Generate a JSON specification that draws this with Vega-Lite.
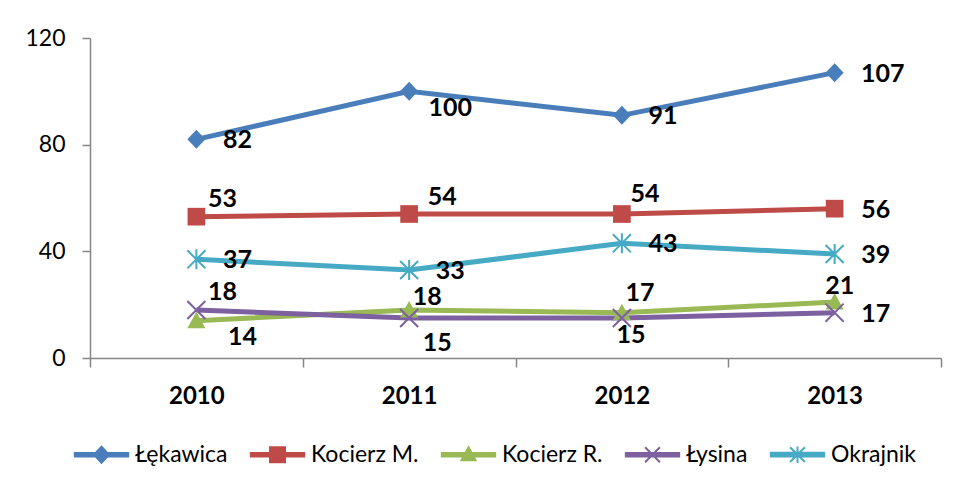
{
  "$schema": "https://vega.github.io/schema/vega-lite/v6.json",
  "width": 851,
  "height": 320,
  "autosize": {"type": "none"},
  "padding": {"left": 90, "top": 38, "right": 17, "bottom": 131},
  "background": "white",
  "config": {"view": {"stroke": null}, "font": "Lato"},
  "data": {
    "values": [
      {"series": "Łękawica", "year": "2010", "value": 82},
      {"series": "Łękawica", "year": "2011", "value": 100},
      {"series": "Łękawica", "year": "2012", "value": 91},
      {"series": "Łękawica", "year": "2013", "value": 107},
      {"series": "Kocierz M.", "year": "2010", "value": 53},
      {"series": "Kocierz M.", "year": "2011", "value": 54},
      {"series": "Kocierz M.", "year": "2012", "value": 54},
      {"series": "Kocierz M.", "year": "2013", "value": 56},
      {"series": "Kocierz R.", "year": "2010", "value": 14},
      {"series": "Kocierz R.", "year": "2011", "value": 18},
      {"series": "Kocierz R.", "year": "2012", "value": 17},
      {"series": "Kocierz R.", "year": "2013", "value": 21},
      {"series": "Łysina", "year": "2010", "value": 18},
      {"series": "Łysina", "year": "2011", "value": 15},
      {"series": "Łysina", "year": "2012", "value": 15},
      {"series": "Łysina", "year": "2013", "value": 17},
      {"series": "Okrajnik", "year": "2010", "value": 37},
      {"series": "Okrajnik", "year": "2011", "value": 33},
      {"series": "Okrajnik", "year": "2012", "value": 43},
      {"series": "Okrajnik", "year": "2013", "value": 39}
    ]
  },
  "encoding": {
    "x": {
      "field": "year", "type": "nominal",
      "scale": {"type": "band", "paddingInner": 0, "paddingOuter": 0},
      "axis": {
        "title": null, "labelAngle": 0, "tickBand": "extent", "grid": false,
        "domainColor": "#868686", "domainWidth": 1.5, "tickColor": "#868686", "tickWidth": 1.5, "tickSize": 9,
        "labelFont": "Lato", "labelFontSize": 24, "labelFontWeight": "bold", "labelColor": "black",
        "labelBaseline": "middle", "labelPadding": 29
      }
    },
    "y": {
      "field": "value", "type": "quantitative",
      "scale": {"domain": [0, 120]},
      "axis": {
        "title": null, "values": [0, 40, 80, 120], "grid": false,
        "domainColor": "#868686", "domainWidth": 1.5, "tickColor": "#868686", "tickWidth": 1.5, "tickSize": 8,
        "labelFont": "Lato", "labelFontSize": 23, "labelColor": "black", "labelPadding": 17
      }
    }
  },
  "layer": [
    {
      "transform": [{"filter": "datum.value < 0"}],
      "mark": {"type": "point", "filled": true, "opacity": 1, "size": 3025, "strokeWidth": 2},
      "encoding": {
        "color": {
          "field": "series", "type": "nominal",
          "scale": {
            "domain": ["Łękawica", "Kocierz M.", "Kocierz R.", "Łysina", "Okrajnik"],
            "range": ["#4A7EBB", "#BE4B48", "#98B954", "#7D60A0", "#46AAC5"]
          },
          "legend": {
            "title": null, "orient": "none", "legendX": -17, "legendY": 388, "direction": "horizontal",
            "padding": 0, "columnPadding": 18, "labelOffset": 5, "labelLimit": 300,
            "labelFont": "Lato", "labelFontSize": 23, "labelColor": "black",
            "symbolSize": 3025, "symbolStrokeWidth": 2, "symbolOpacity": 1
          }
        },
        "shape": {
          "field": "series", "type": "nominal",
          "scale": {
            "domain": ["Łękawica", "Kocierz M.", "Kocierz R.", "Łysina", "Okrajnik"],
            "range": [
              "M-0.97,-0.064L0.97,-0.064L0.97,0.064L-0.97,0.064ZM0,-0.29L0.273,0L0,0.29L-0.273,0Z",
              "M-0.97,-0.064L0.97,-0.064L0.97,0.064L-0.97,0.064ZM-0.273,-0.273L0.273,-0.273L0.273,0.273L-0.273,0.273Z",
              "M-0.97,-0.064L0.97,-0.064L0.97,0.064L-0.97,0.064ZM0,-0.27L0.255,0.2L-0.255,0.2Z",
              "M-0.97,-0.064L0.97,-0.064L0.97,0.064L-0.97,0.064ZM-0.27,-0.27L0.27,0.27M-0.27,0.27L0.27,-0.27",
              "M-0.97,-0.064L0.97,-0.064L0.97,0.064L-0.97,0.064ZM-0.27,-0.27L0.27,0.27M-0.27,0.27L0.27,-0.27M0,-0.3L0,0.3"
            ]
          },
          "legend": {
            "title": null, "orient": "none", "legendX": -17, "legendY": 388, "direction": "horizontal",
            "padding": 0, "columnPadding": 18, "labelOffset": 5, "labelLimit": 300,
            "labelFont": "Lato", "labelFontSize": 23, "labelColor": "black",
            "symbolSize": 3025, "symbolStrokeWidth": 2, "symbolOpacity": 1
          }
        }
      }
    },
    {
      "mark": {"type": "line", "strokeWidth": 5},
      "encoding": {"color": {"field": "series", "type": "nominal"}}
    },
    {
      "transform": [{"filter": "datum.series === 'Łękawica'"}],
      "mark": {"type": "point", "filled": true, "opacity": 1, "size": 361, "shape": "M0,-1L0.95,0L0,1L-0.95,0Z"},
      "encoding": {"color": {"field": "series", "type": "nominal"}}
    },
    {
      "transform": [{"filter": "datum.series === 'Kocierz M.'"}],
      "mark": {"type": "point", "filled": true, "opacity": 1, "size": 361, "shape": "M-0.93,-0.93L0.93,-0.93L0.93,0.93L-0.93,0.93Z"},
      "encoding": {"color": {"field": "series", "type": "nominal"}}
    },
    {
      "transform": [{"filter": "datum.series === 'Kocierz R.'"}],
      "mark": {"type": "point", "filled": true, "opacity": 1, "size": 361, "shape": "M0,-0.95L0.95,0.8L-0.95,0.8Z"},
      "encoding": {"color": {"field": "series", "type": "nominal"}}
    },
    {
      "transform": [{"filter": "datum.series === 'Łysina'"}],
      "mark": {"type": "point", "filled": false, "opacity": 1, "size": 361, "strokeWidth": 2, "shape": "M-0.95,-0.95L0.95,0.95M-0.95,0.95L0.95,-0.95"},
      "encoding": {"color": {"field": "series", "type": "nominal"}}
    },
    {
      "transform": [{"filter": "datum.series === 'Okrajnik'"}],
      "mark": {"type": "point", "filled": false, "opacity": 1, "size": 361, "strokeWidth": 2, "shape": "M-0.95,-0.95L0.95,0.95M-0.95,0.95L0.95,-0.95M0,-1.05L0,1.05"},
      "encoding": {"color": {"field": "series", "type": "nominal"}}
    },
    {
      "transform": [{"filter": "datum.series === 'Okrajnik' || (datum.series === 'Łękawica' && (datum.year === '2010' || datum.year === '2012')) || (datum.year === '2013' && (datum.series === 'Kocierz M.' || datum.series === 'Łysina'))"}],
      "mark": {"type": "text", "font": "Lato", "fontSize": 25, "fontWeight": "bold", "color": "black", "align": "center", "baseline": "middle", "dx": 41, "dy": 1},
      "encoding": {"text": {"field": "value", "type": "quantitative"}}
    },
    {
      "transform": [{"filter": "datum.series === 'Łękawica' && datum.year === '2013'"}],
      "mark": {"type": "text", "font": "Lato", "fontSize": 25, "fontWeight": "bold", "color": "black", "align": "center", "baseline": "middle", "dx": 48, "dy": 1},
      "encoding": {"text": {"field": "value", "type": "quantitative"}}
    },
    {
      "transform": [{"filter": "datum.series === 'Łękawica' && datum.year === '2011'"}],
      "mark": {"type": "text", "font": "Lato", "fontSize": 25, "fontWeight": "bold", "color": "black", "align": "center", "baseline": "middle", "dx": 41, "dy": 17},
      "encoding": {"text": {"field": "value", "type": "quantitative"}}
    },
    {
      "transform": [{"filter": "datum.year === '2010' && (datum.series === 'Kocierz M.' || datum.series === 'Łysina')"}],
      "mark": {"type": "text", "font": "Lato", "fontSize": 25, "fontWeight": "bold", "color": "black", "align": "center", "baseline": "middle", "dx": 26, "dy": -18},
      "encoding": {"text": {"field": "value", "type": "quantitative"}}
    },
    {
      "transform": [{"filter": "datum.series === 'Kocierz M.' && datum.year === '2011'"}],
      "mark": {"type": "text", "font": "Lato", "fontSize": 25, "fontWeight": "bold", "color": "black", "align": "center", "baseline": "middle", "dx": 33, "dy": -17},
      "encoding": {"text": {"field": "value", "type": "quantitative"}}
    },
    {
      "transform": [{"filter": "datum.series === 'Kocierz M.' && datum.year === '2012'"}],
      "mark": {"type": "text", "font": "Lato", "fontSize": 25, "fontWeight": "bold", "color": "black", "align": "center", "baseline": "middle", "dx": 23, "dy": -20},
      "encoding": {"text": {"field": "value", "type": "quantitative"}}
    },
    {
      "transform": [{"filter": "datum.series === 'Kocierz R.' && datum.year === '2010'"}],
      "mark": {"type": "text", "font": "Lato", "fontSize": 25, "fontWeight": "bold", "color": "black", "align": "center", "baseline": "middle", "dx": 46, "dy": 16},
      "encoding": {"text": {"field": "value", "type": "quantitative"}}
    },
    {
      "transform": [{"filter": "datum.series === 'Kocierz R.' && datum.year === '2011'"}],
      "mark": {"type": "text", "font": "Lato", "fontSize": 25, "fontWeight": "bold", "color": "black", "align": "center", "baseline": "middle", "dx": 18, "dy": -13},
      "encoding": {"text": {"field": "value", "type": "quantitative"}}
    },
    {
      "transform": [{"filter": "datum.series === 'Kocierz R.' && datum.year === '2012'"}],
      "mark": {"type": "text", "font": "Lato", "fontSize": 25, "fontWeight": "bold", "color": "black", "align": "center", "baseline": "middle", "dx": 18, "dy": -20},
      "encoding": {"text": {"field": "value", "type": "quantitative"}}
    },
    {
      "transform": [{"filter": "datum.series === 'Kocierz R.' && datum.year === '2013'"}],
      "mark": {"type": "text", "font": "Lato", "fontSize": 25, "fontWeight": "bold", "color": "black", "align": "center", "baseline": "middle", "dx": 5, "dy": -16},
      "encoding": {"text": {"field": "value", "type": "quantitative"}}
    },
    {
      "transform": [{"filter": "datum.series === 'Łysina' && datum.year === '2011'"}],
      "mark": {"type": "text", "font": "Lato", "fontSize": 25, "fontWeight": "bold", "color": "black", "align": "center", "baseline": "middle", "dx": 28, "dy": 25},
      "encoding": {"text": {"field": "value", "type": "quantitative"}}
    },
    {
      "transform": [{"filter": "datum.series === 'Łysina' && datum.year === '2012'"}],
      "mark": {"type": "text", "font": "Lato", "fontSize": 25, "fontWeight": "bold", "color": "black", "align": "center", "baseline": "middle", "dx": 9, "dy": 17},
      "encoding": {"text": {"field": "value", "type": "quantitative"}}
    }
  ]
}
